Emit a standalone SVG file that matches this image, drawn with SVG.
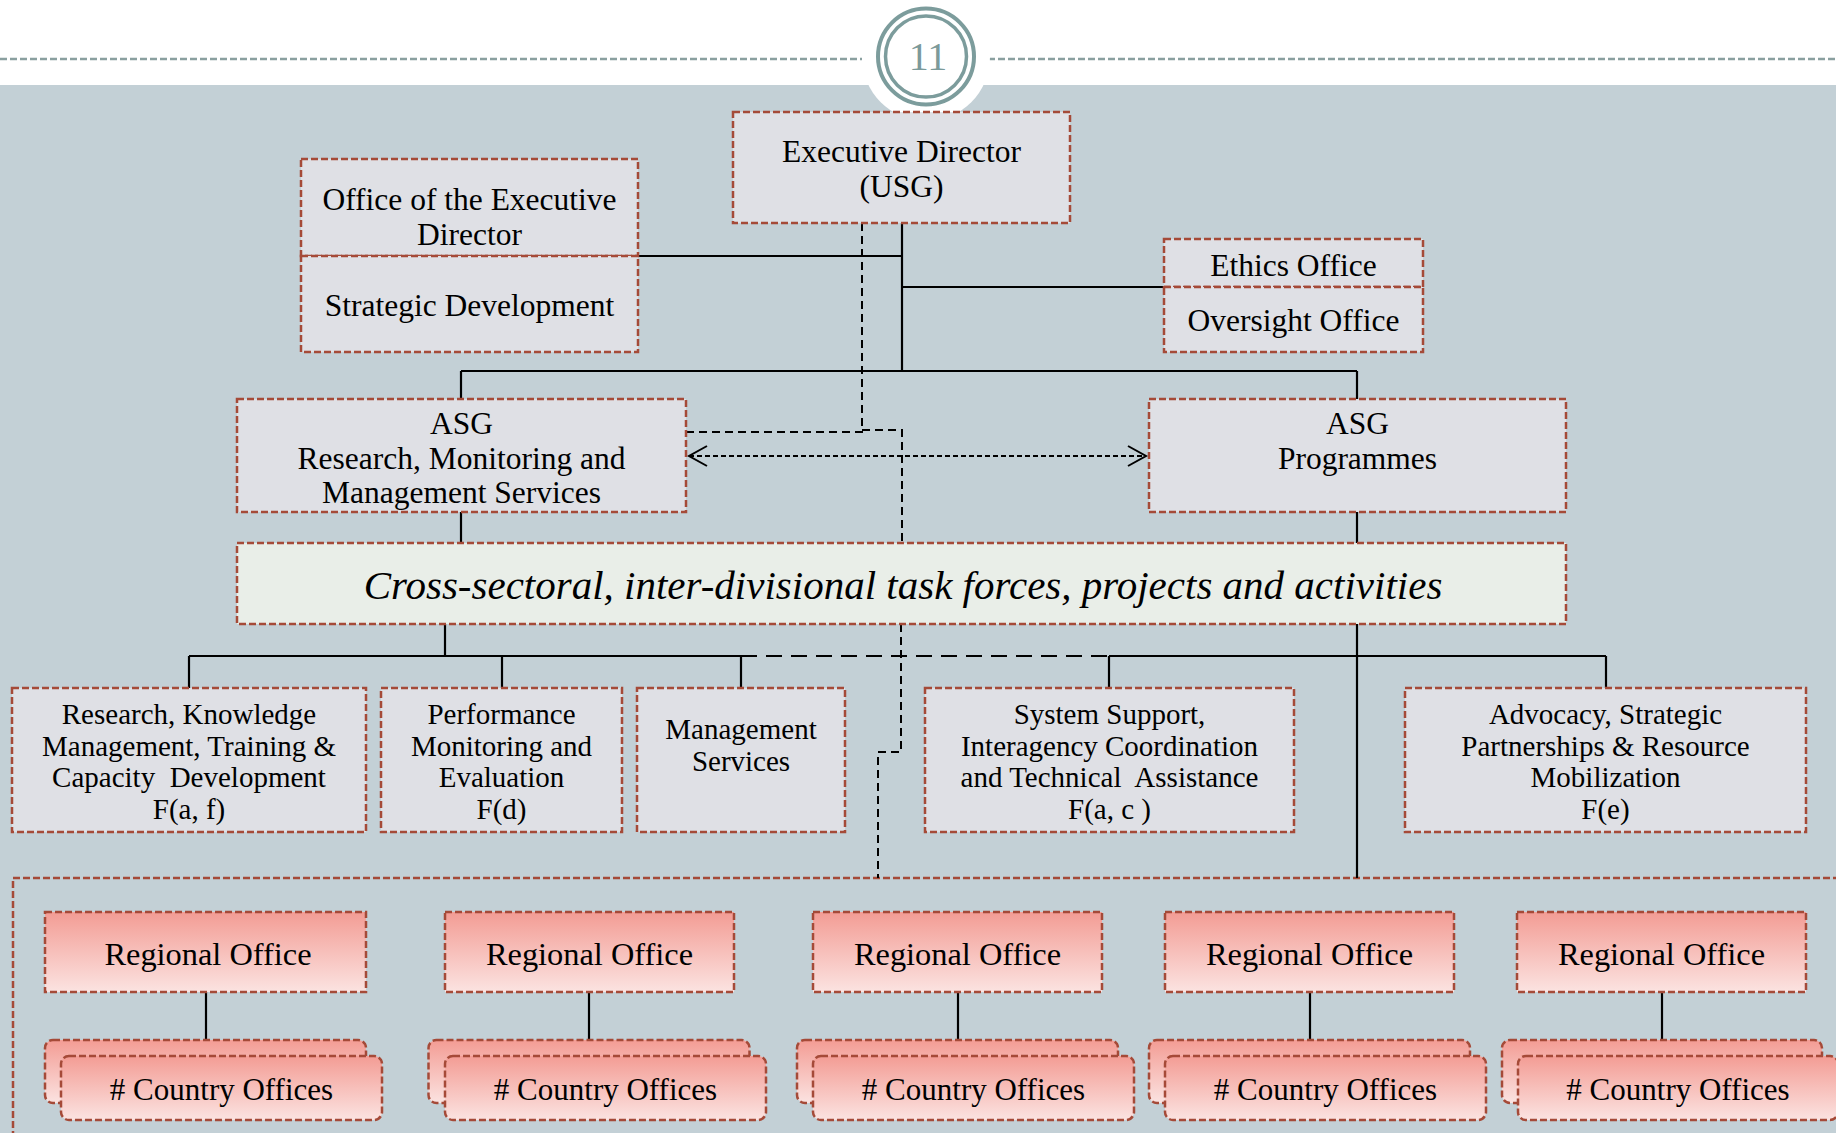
<svg xmlns="http://www.w3.org/2000/svg" width="1836" height="1133" viewBox="0 0 1836 1133">
<defs>
<style>
.box{fill:#dfe0e5;stroke:#a54a38;stroke-width:2.5;stroke-dasharray:7 3}
.cross{fill:#e9eee8;stroke:#a54a38;stroke-width:2.5;stroke-dasharray:7 3}
.ro{fill:url(#pink);stroke:#a54a38;stroke-width:2.5;stroke-dasharray:7 3}
.frame{fill:none;stroke:#a54a38;stroke-width:2.5;stroke-dasharray:7 3}
.t{font-family:"Liberation Serif","Times New Roman",serif;fill:#000;text-anchor:middle}
.big{font-size:31.5px}
.sm{font-size:29px}
.rt{font-size:32.4px}
.ct{font-size:31px}
.it{font-size:41px;font-style:italic}
.solid{fill:none;stroke:#000;stroke-width:2.2}
.dash{fill:none;stroke:#000;stroke-width:2;stroke-dasharray:8 5}
.dash2{fill:none;stroke:#000;stroke-width:2.2;stroke-dasharray:16 9}
.dash3{fill:none;stroke:#000;stroke-width:2;stroke-dasharray:5 3}
</style>
<linearGradient id="pink" x1="0" y1="0" x2="0" y2="1">
<stop offset="0" stop-color="#f39c94"/>
<stop offset="1" stop-color="#fbe3e1"/>
</linearGradient>
<marker id="chev" markerUnits="userSpaceOnUse" markerWidth="22" markerHeight="24" refX="19" refY="11" orient="auto-start-reverse" overflow="visible">
<path d="M1,1 L19,11 L1,21" fill="none" stroke="#000" stroke-width="2" stroke-dasharray="none"/>
</marker>
</defs>

<!-- background -->
<rect x="0" y="0" width="1836" height="1133" fill="#ffffff"/>
<rect x="0" y="85" width="1836" height="1048" fill="#c3d0d6"/>
<g id="header">
<line x1="0" y1="59" x2="862" y2="59" stroke="#8aa0a0" stroke-width="2.5" stroke-dasharray="7 3"/>
<line x1="988" y1="59" x2="1836" y2="59" stroke="#8aa0a0" stroke-width="2.5" stroke-dasharray="7 3"/>
<circle cx="926" cy="57" r="64" fill="#ffffff"/>
<circle cx="926" cy="56.5" r="48" fill="none" stroke="#7c9c9c" stroke-width="4"/>
<circle cx="926" cy="56.5" r="40.5" fill="none" stroke="#7c9c9c" stroke-width="3.5"/>
<text x="928" y="70" font-family="Liberation Serif, serif" font-size="40" fill="#7c9a9a" text-anchor="middle">11</text>
</g>

<!-- regional frame -->
<rect id="regional-frame" class="frame" x="13" y="878" width="1900" height="400"/>

<g id="connectors">
<path class="solid" d="M902,223 V371"/>
<path class="solid" d="M638,256 H902"/>
<path class="solid" d="M902,287 H1164"/>
<path class="solid" d="M461,371 H1357"/>
<path class="solid" d="M461,371 V399"/>
<path class="solid" d="M1357,371 V399"/>
<path class="dash" d="M862,223 V432 H686"/>
<path class="dash" d="M862,430 H902 V543"/>
<path class="dash3" d="M689,456 H1146" marker-start="url(#chev)" marker-end="url(#chev)"/>
<path class="solid" d="M461,512 V543"/>
<path class="solid" d="M1357,512 V543"/>
<path class="solid" d="M445,624 V656"/>
<path class="solid" d="M189,656 H741"/>
<path class="dash2" d="M741,656 H1109"/>
<path class="solid" d="M1109,656 H1606"/>
<path class="solid" d="M189,656 V688"/>
<path class="solid" d="M502,656 V688"/>
<path class="solid" d="M741,656 V688"/>
<path class="solid" d="M1109,656 V688"/>
<path class="solid" d="M1606,656 V688"/>
<path class="solid" d="M1357,624 V878"/>
<path class="dash" d="M901,624 V752 H878 V878"/>
<path class="solid" d="M206,992 V1040"/>
<path class="solid" d="M589,992 V1040"/>
<path class="solid" d="M958,992 V1040"/>
<path class="solid" d="M1310,992 V1040"/>
<path class="solid" d="M1662,992 V1040"/>
</g>

<g id="exec-director">
<rect class="box" x="733" y="112" width="337" height="111"/>
<text class="t big" x="901.5" y="162">Executive Director</text>
<text class="t big" x="901.5" y="197">(USG)</text>
</g>

<g id="office-ed">
<rect class="box" x="301" y="159" width="337" height="97"/>
<text class="t big" x="469.5" y="210">Office of the Executive</text>
<text class="t big" x="469.5" y="245">Director</text>
</g>
<g id="strategic-dev">
<rect class="box" x="301" y="256" width="337" height="96"/>
<text class="t big" x="469.5" y="316">Strategic Development</text>
</g>

<g id="ethics">
<rect class="box" x="1164" y="239" width="259" height="48"/>
<text class="t big" x="1293.5" y="276">Ethics Office</text>
</g>
<g id="oversight">
<rect class="box" x="1164" y="287" width="259" height="65"/>
<text class="t big" x="1293.5" y="331">Oversight Office</text>
</g>

<g id="asg-rmms">
<rect class="box" x="237" y="399" width="449" height="113"/>
<text class="t big" x="461.5" y="434">ASG</text>
<text class="t big" x="461.5" y="469">Research, Monitoring and</text>
<text class="t big" x="461.5" y="503">Management Services</text>
</g>

<g id="asg-prog">
<rect class="box" x="1149" y="399" width="417" height="113"/>
<text class="t big" x="1357.5" y="434">ASG</text>
<text class="t big" x="1357.5" y="469">Programmes</text>
</g>

<g id="cross">
<rect class="cross" x="237" y="543" width="1329" height="81"/>
<text class="t it" x="903" y="599">Cross-sectoral, inter-divisional task forces, projects and activities</text>
</g>

<g id="research">
<rect class="box" x="12" y="688" width="354" height="144"/>
<text class="t sm" x="189" y="724">Research, Knowledge</text>
<text class="t sm" x="189" y="755.7">Management, Training &amp;</text>
<text class="t sm" x="189" y="787.4" xml:space="preserve">Capacity  Development</text>
<text class="t sm" x="189" y="819">F(a, f)</text>
</g>

<g id="performance">
<rect class="box" x="381" y="688" width="241" height="144"/>
<text class="t sm" x="501.5" y="724">Performance</text>
<text class="t sm" x="501.5" y="755.7">Monitoring and</text>
<text class="t sm" x="501.5" y="787.4">Evaluation</text>
<text class="t sm" x="501.5" y="819">F(d)</text>
</g>

<g id="mgmt-services">
<rect class="box" x="637" y="688" width="208" height="144"/>
<text class="t sm" x="741" y="739">Management</text>
<text class="t sm" x="741" y="771">Services</text>
</g>

<g id="system-support">
<rect class="box" x="925" y="688" width="369" height="144"/>
<text class="t sm" x="1109.5" y="724">System Support,</text>
<text class="t sm" x="1109.5" y="755.7">Interagency Coordination</text>
<text class="t sm" x="1109.5" y="787.4" xml:space="preserve">and Technical  Assistance</text>
<text class="t sm" x="1109.5" y="819">F(a, c )</text>
</g>

<g id="advocacy">
<rect class="box" x="1405" y="688" width="401" height="144"/>
<text class="t sm" x="1605.5" y="724">Advocacy, Strategic</text>
<text class="t sm" x="1605.5" y="755.7">Partnerships &amp; Resource</text>
<text class="t sm" x="1605.5" y="787.4">Mobilization</text>
<text class="t sm" x="1605.5" y="819">F(e)</text>
</g>

<g id="ro1">
<rect class="ro" x="45" y="912" width="321" height="80"/>
<text class="t rt" x="208" y="965">Regional Office</text>
</g>
<g id="co1">
<rect class="ro" x="45" y="1040" width="321" height="63" rx="8"/>
<rect class="ro" x="61" y="1056" width="321" height="64" rx="8"/>
<text class="t ct" x="221.5" y="1100"># Country Offices</text>
</g>

<g id="ro2">
<rect class="ro" x="445" y="912" width="289" height="80"/>
<text class="t rt" x="589.5" y="965">Regional Office</text>
</g>
<g id="co2">
<rect class="ro" x="428.5" y="1040" width="321" height="63" rx="8"/>
<rect class="ro" x="445" y="1056" width="321" height="64" rx="8"/>
<text class="t ct" x="605.5" y="1100"># Country Offices</text>
</g>

<g id="ro3">
<rect class="ro" x="813" y="912" width="289" height="80"/>
<text class="t rt" x="957.5" y="965">Regional Office</text>
</g>
<g id="co3">
<rect class="ro" x="797" y="1040" width="321" height="63" rx="8"/>
<rect class="ro" x="813" y="1056" width="321" height="64" rx="8"/>
<text class="t ct" x="973.5" y="1100"># Country Offices</text>
</g>

<g id="ro4">
<rect class="ro" x="1165" y="912" width="289" height="80"/>
<text class="t rt" x="1309.5" y="965">Regional Office</text>
</g>
<g id="co4">
<rect class="ro" x="1149" y="1040" width="321" height="63" rx="8"/>
<rect class="ro" x="1165" y="1056" width="321" height="64" rx="8"/>
<text class="t ct" x="1325.5" y="1100"># Country Offices</text>
</g>

<g id="ro5">
<rect class="ro" x="1517" y="912" width="289" height="80"/>
<text class="t rt" x="1661.5" y="965">Regional Office</text>
</g>
<g id="co5">
<rect class="ro" x="1502" y="1040" width="320" height="63" rx="8"/>
<rect class="ro" x="1518" y="1056" width="320" height="64" rx="8"/>
<text class="t ct" x="1678" y="1100"># Country Offices</text>
</g>
</svg>
